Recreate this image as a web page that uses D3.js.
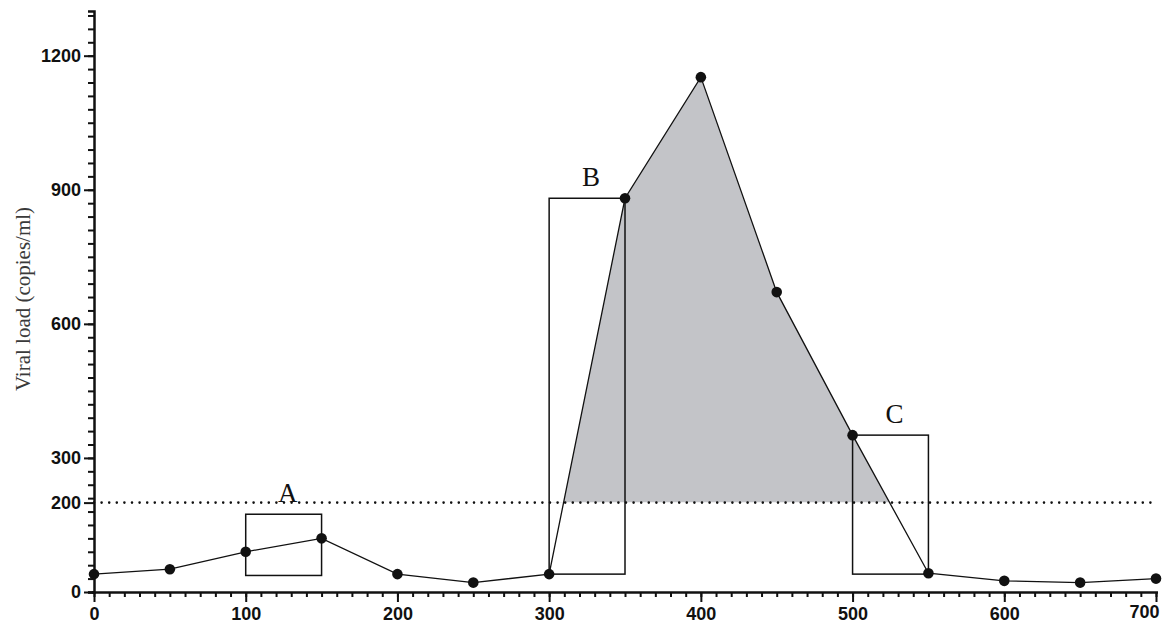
<!DOCTYPE html>
<html>
<head>
<meta charset="utf-8">
<script src="https://cdn.jsdelivr.net/npm/d3@7"></script>
<style>
    body { margin: 0; background: #fff; }
    .axis text { font-family: "Liberation Sans", Arial, sans-serif; font-weight: bold; font-size: 18px; fill: #111; }
    .axis path, .axis line { stroke: #111; }
</style>
</head>
<body>
<div id="chart"></div>
<script>
// Time points and viral load readings
var days = [0, 50, 100, 150, 200, 250, 300, 350, 400, 450, 500, 550, 600, 650, 700];
var load = [40, 51, 90, 120, 40, 21, 40, 881, 1152, 671, 351, 42, 25, 21, 30];

// Boxes A, B, C
var boxNames = ["A", "B", "C"];
var boxStart = [100, 300, 500];
var boxEnd = [150, 350, 550];
var boxLow = [37, 40, 40];
var boxHigh = [174, 881, 351];

var threshold = 200;
var yMajorTicks = [0, 200, 300, 600, 900, 1200];
var xMajorTicks = [0, 100, 200, 300, 400, 500, 600, 700];

var width = 1163, height = 626;

var xScale = d3.scaleLinear().domain([0, 700]).range([94, 1156]);
var yScale = d3.scaleLinear().domain([0, 1300]).range([592, 11]);

var svg = d3.select("#chart")
    .append("svg")
    .attr("width", width)
    .attr("height", height);

// shaded area above the threshold, from 300 to 550
var shadeData = days.map(function (d, i) { return [d, load[i]]; })
    .filter(function (d) { return d[0] >= 300 && d[0] <= 550; });

svg.append("clipPath")
    .attr("id", "above")
    .append("rect")
    .attr("x", 0)
    .attr("y", 0)
    .attr("width", width)
    .attr("height", yScale(threshold));

var area = d3.area()
    .x(function (d) { return xScale(d[0]); })
    .y0(yScale(threshold))
    .y1(function (d) { return yScale(d[1]); });

svg.append("path")
    .datum(shadeData)
    .attr("clip-path", "url(#above)")
    .attr("fill", "#c3c4c8")
    .attr("d", area);

// threshold dotted line
svg.append("line")
    .attr("x1", xScale(0))
    .attr("x2", xScale(700))
    .attr("y1", yScale(threshold))
    .attr("y2", yScale(threshold))
    .attr("stroke", "#111")
    .attr("stroke-width", 2.6)
    .attr("stroke-linecap", "round")
    .attr("stroke-dasharray", "0,7.6");

// boxes
boxNames.forEach(function (name, i) {
    svg.append("rect")
        .attr("x", xScale(boxStart[i]))
        .attr("y", yScale(boxHigh[i]))
        .attr("width", xScale(boxEnd[i]) - xScale(boxStart[i]))
        .attr("height", yScale(boxLow[i]) - yScale(boxHigh[i]))
        .attr("fill", "none")
        .attr("stroke", "#111")
        .attr("stroke-width", 1.5);
    svg.append("text")
        .attr("x", xScale((boxStart[i] + boxEnd[i]) / 2) + 4)
        .attr("y", yScale(boxHigh[i]) - 12)
        .attr("text-anchor", "middle")
        .style("font-family", "'Liberation Serif', 'Times New Roman', serif")
        .style("font-size", "27px")
        .style("fill", "#111")
        .text(name);
});

// line and points
var line = d3.line()
    .x(function (d, i) { return xScale(days[i]); })
    .y(function (d) { return yScale(d); });

svg.append("path")
    .datum(load)
    .attr("fill", "none")
    .attr("stroke", "#111")
    .attr("stroke-width", 1.3)
    .attr("d", line);

svg.selectAll(".pt")
    .data(load)
    .enter().append("circle")
    .attr("class", "pt")
    .attr("cx", function (d, i) { return xScale(days[i]); })
    .attr("cy", function (d) { return yScale(d); })
    .attr("r", 5.3)
    .attr("fill", "#111");

// y axis: minor then major
svg.append("g")
    .attr("class", "axis")
    .attr("transform", "translate(94,0)")
    .call(d3.axisLeft(yScale).tickValues(d3.range(0, 1300, 30)).tickSize(6).tickFormat(""))
    .call(function (g) {
        g.select(".domain").attr("stroke-width", 2.5);
        g.selectAll(".tick line").attr("stroke-width", 2);
    });

svg.append("g")
    .attr("class", "axis")
    .attr("transform", "translate(94,0)")
    .call(d3.axisLeft(yScale).tickValues(yMajorTicks).tickSize(10).tickPadding(3)
        .tickSizeOuter(0).tickFormat(d3.format("d")))
    .call(function (g) {
        g.select(".domain").remove();
        g.selectAll(".tick line").attr("stroke-width", 2);
    });

// x axis: minor then major
svg.append("g")
    .attr("class", "axis")
    .attr("transform", "translate(0,592)")
    .call(d3.axisBottom(xScale).tickValues(d3.range(0, 701, 10)).tickSize(5).tickFormat("").tickSizeOuter(0))
    .call(function (g) {
        g.select(".domain").attr("stroke-width", 2.5).attr("d", "M92,0.5H1158");
        g.selectAll(".tick line").attr("stroke-width", 2);
    });

svg.append("g")
    .attr("class", "axis")
    .attr("transform", "translate(0,592)")
    .call(d3.axisBottom(xScale).tickValues(xMajorTicks).tickSize(10).tickPadding(5))
    .call(function (g) {
        g.select(".domain").remove();
        g.selectAll(".tick line").attr("stroke-width", 2);
        g.selectAll(".tick text").filter(function (d) { return d === 700; })
            .attr("dx", -12).attr("y", 13);
    });

// y axis title
svg.append("text")
    .attr("transform", "translate(30,299) rotate(-90)")
    .attr("text-anchor", "middle")
    .style("font-family", "'Liberation Serif', 'Times New Roman', serif")
    .style("font-size", "21px")
    .style("fill", "#3a3a3a")
    .text("Viral load (copies/ml)");
</script>
</body>
</html>
